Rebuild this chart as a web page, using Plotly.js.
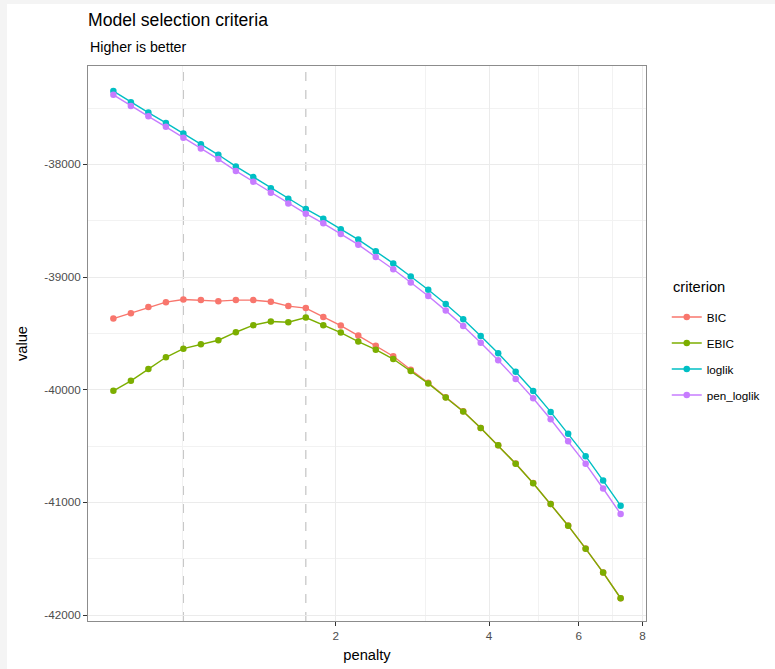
<!DOCTYPE html>
<html>
<head>
<meta charset="utf-8">
<script src="https://cdn.plot.ly/plotly-3.0.1.min.js"></script>
<style>
  html, body { margin: 0; padding: 0; background: #f4f4f4; width: 775px; height: 669px; overflow: hidden; }
  #chart { position: absolute; left: 7px; top: 4px; width: 768px; height: 665px; background: #ffffff; }
</style>
</head>
<body>
<div id="chart"></div>
<script>
// ---- data ----
const penalty = [0.7322, 0.7925, 0.8577, 0.9284, 1.0047, 1.0874, 1.1767, 1.2736, 1.3782, 1.4918,
                 1.6144, 1.7473, 1.8911, 2.0466, 2.2149, 2.3973, 2.5943, 2.8079, 3.0388, 3.2889,
                 3.5593, 3.8523, 4.1690, 4.5121, 4.8831, 5.2850, 5.7196, 6.1902, 6.6993, 7.2506];

const BIC = [-39369, -39321, -39267, -39223, -39199, -39205, -39214, -39205, -39205, -39220,
             -39258, -39276, -39354, -39431, -39520, -39609, -39703, -39823, -39939, -40066,
             -40191, -40339, -40493, -40656, -40829, -41014, -41206, -41410, -41622, -41850];

const EBIC = [-40010, -39921, -39817, -39712, -39636, -39597, -39561, -39490, -39427, -39395,
              -39401, -39360, -39427, -39493, -39573, -39645, -39728, -39834, -39944, -40069,
              -40193, -40340, -40494, -40657, -40830, -41015, -41207, -41411, -41623, -41851];

const loglik = [-37350, -37448, -37540, -37632, -37727, -37822, -37915, -38018, -38113, -38211,
                -38305, -38396, -38482, -38575, -38668, -38772, -38879, -38995, -39113, -39240,
                -39374, -39523, -39677, -39841, -40012, -40197, -40391, -40590, -40807, -41029];

const pen_loglik = [-37383, -37481, -37574, -37667, -37763, -37859, -37953, -38058, -38154, -38253,
                    -38348, -38438, -38523, -38619, -38713, -38822, -38931, -39049, -39169, -39298,
                    -39434, -39584, -39739, -39904, -40076, -40262, -40457, -40658, -40877, -41103];

const seriesNames = ["BIC", "EBIC", "loglik", "pen_loglik"];
const seriesValues = [BIC, EBIC, loglik, pen_loglik];
const seriesColors = ["#F8766D", "#7CAE00", "#00BFC4", "#C77CFF"];

const selectedPenalty = [1.0047, 1.7473];

const xTickVals = [2, 4, 6, 8];
const xTickText = ["2", "4", "6", "8"];
const xMinorVals = [1, 3, 5, 7];
const yTickVals = [-42000, -41000, -40000, -39000, -38000];
const yTickText = ["-42000", "-41000", "-40000", "-39000", "-38000"];
const yMinorVals = [-41500, -40500, -39500, -38500, -37500];

// ---- traces ----
const traces = seriesNames.map((name, i) => ({
  type: "scatter",
  mode: "lines+markers",
  name: name,
  legendgroup: name,
  x: penalty,
  y: seriesValues[i],
  line: { color: seriesColors[i], width: 1.4 },
  marker: { color: seriesColors[i], size: 6.5 }
}));

const FONT = "Liberation Sans, Arial, sans-serif";

const shapes = selectedPenalty.map(v => ({
  type: "line", xref: "x", yref: "paper",
  x0: v, x1: v, y0: 0, y1: 1,
  line: { color: "#c8c8c8", width: 1.3, dash: "dash" },
  layer: "below"
}));

const layout = {
  width: 768, height: 665,
  margin: { l: 81, r: 129, t: 62, b: 48, autoexpand: false },
  paper_bgcolor: "#ffffff",
  plot_bgcolor: "#ffffff",
  font: { family: FONT, color: "#000000" },
  showlegend: true,
  title: {
    text: "Model selection criteria",
    x: 81 / 768, xref: "container", xanchor: "left",
    y: 1 - 16 / 665, yref: "container", yanchor: "middle",
    font: { family: FONT, size: 17.6, color: "#000000" }
  },
  annotations: [{
    text: "Higher is better",
    xref: "paper", yref: "paper",
    x: 0, y: 1 + 19 / 555, xanchor: "left", yanchor: "middle",
    showarrow: false,
    font: { family: FONT, size: 14.2, color: "#000000" }
  }, {
    text: "criterion",
    xref: "paper", yref: "paper",
    x: 583 / 558, y: (617 - 283) / 555, xanchor: "left", yanchor: "middle",
    showarrow: false,
    font: { family: FONT, size: 14.7, color: "#000000" }
  }],
  xaxis: {
    type: "log",
    range: [-0.1852, 0.9102],
    tickmode: "array",
    tickvals: xTickVals,
    ticktext: xTickText,
    ticks: "outside", ticklen: 4, tickwidth: 1, tickcolor: "#333333",
    tickfont: { family: FONT, size: 11.7, color: "#4d4d4d" },
    showgrid: true, gridcolor: "#ebebeb", gridwidth: 1,
    minor: { tickvals: xMinorVals, showgrid: true, gridcolor: "#f2f2f2", gridwidth: 1, ticks: "" },
    zeroline: false,
    showline: true, mirror: true, linecolor: "#8c8c8c", linewidth: 1,
    title: { text: "penalty", font: { family: FONT, size: 14.7, color: "#000000" }, standoff: 8 }
  },
  yaxis: {
    range: [-42053, -37127],
    tickmode: "array",
    tickvals: yTickVals,
    ticktext: yTickText,
    ticks: "outside", ticklen: 4, tickwidth: 1, tickcolor: "#333333",
    tickfont: { family: FONT, size: 11.7, color: "#4d4d4d" },
    showgrid: true, gridcolor: "#ebebeb", gridwidth: 1,
    minor: { tickvals: yMinorVals, showgrid: true, gridcolor: "#f2f2f2", gridwidth: 1, ticks: "" },
    zeroline: false,
    showline: true, mirror: true, linecolor: "#8c8c8c", linewidth: 1,
    title: { text: "value", font: { family: FONT, size: 14.7, color: "#000000" }, standoff: 13 }
  },
  legend: {
    x: 1.0372, xanchor: "left",
    y: 0.574, yanchor: "top",
    bgcolor: "rgba(0,0,0,0)",
    font: { family: FONT, size: 11.7, color: "#000000" },
    tracegroupgap: 7,
    itemwidth: 30
  },
  shapes: shapes
};

Plotly.newPlot("chart", traces, layout, { displayModeBar: false, staticPlot: true });
</script>
</body>
</html>
